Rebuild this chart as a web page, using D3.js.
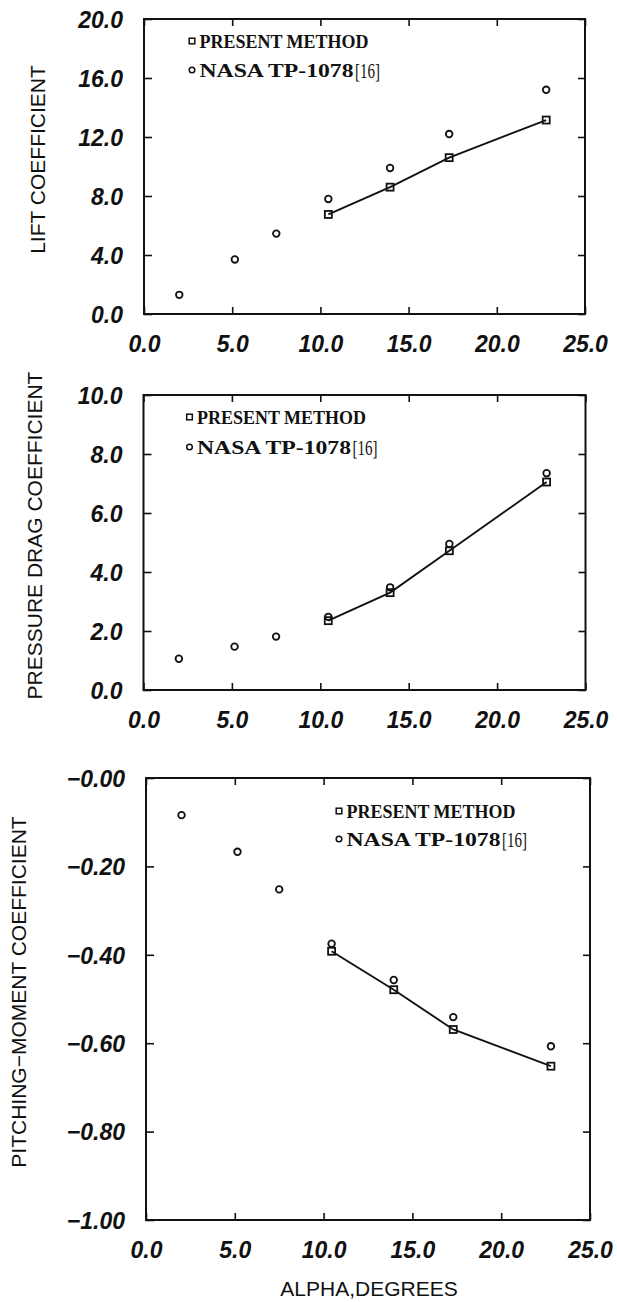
<!DOCTYPE html>
<html>
<head>
<meta charset="utf-8">
<script src="https://cdn.jsdelivr.net/npm/d3@7"></script>
<style>
  body { margin: 0; background: #fff; }
  svg { display: block; }
  .tick text { font-family: "Liberation Sans", Arial, sans-serif; font-style: italic; font-weight: bold; font-size: 23px; fill: #111; }
  .axis-title { font-family: "Liberation Sans", Arial, sans-serif; font-size: 21px; fill: #111; }
  .legend { font-family: "Liberation Serif", "Times New Roman", serif; font-weight: bold; font-size: 19px; fill: #111; }
  .legend-ref { font-family: "Liberation Serif", "Times New Roman", serif; font-size: 21px; fill: #111; }
</style>
</head>
<body>
<svg id="chart" width="617" height="1302"></svg>
<script>
// angles of attack (deg)
const alphaNasa    = [2.0, 5.15, 7.5, 10.45, 13.95, 17.3, 22.8];
const alphaPresent = [10.45, 13.95, 17.3, 22.8];

// lift coefficient
const liftNasa    = [1.3, 3.7, 5.45, 7.8, 9.9, 12.2, 15.2];
const liftPresent = [6.75, 8.6, 10.6, 13.15];

// pressure drag coefficient
const dragNasa    = [1.06, 1.47, 1.81, 2.48, 3.48, 4.95, 7.35];
const dragPresent = [2.35, 3.3, 4.72, 7.05];

// pitching-moment coefficient
const momentNasa    = [-0.084, -0.167, -0.252, -0.375, -0.457, -0.541, -0.607];
const momentPresent = [-0.392, -0.479, -0.569, -0.652];

// ticks
const xTicks = [0, 5, 10, 15, 20, 25];
const xTickLabels = ['0.0', '5.0', '10.0', '15.0', '20.0', '25.0'];
const liftTicks = [0, 4, 8, 12, 16, 20];
const liftTickLabels = ['0.0', '4.0', '8.0', '12.0', '16.0', '20.0'];
const dragTicks = [0, 2, 4, 6, 8, 10];
const dragTickLabels = ['0.0', '2.0', '4.0', '6.0', '8.0', '10.0'];
const momentTicks = [0, -0.2, -0.4, -0.6, -0.8, -1.0];
const momentTickLabels = ['\u22120.00', '\u22120.20', '\u22120.40', '\u22120.60', '\u22120.80', '\u22121.00'];

const legendNames = ['PRESENT METHOD', 'NASA TP-1078', '[16]'];

const svg = d3.select('#chart');
svg.append('rect').attr('width', 617).attr('height', 1302).attr('fill', '#fff');

const panels = [
  { box: [144, 585, 19, 314], yDomain: [0, 20], yTicks: liftTicks, yLabels: liftTickLabels,
    title: 'LIFT COEFFICIENT', titleX: 38, nasa: liftNasa, present: liftPresent, legend: [192, 41, 70] },
  { box: [143.5, 585.5, 395, 690], yDomain: [0, 10], yTicks: dragTicks, yLabels: dragTickLabels,
    title: 'PRESSURE DRAG COEFFICIENT', titleX: 35, nasa: dragNasa, present: dragPresent, legend: [189.5, 417, 447] },
  { box: [146, 590, 778, 1220], yDomain: [-1, 0], yTicks: momentTicks, yLabels: momentTickLabels,
    title: 'PITCHING\u2212MOMENT COEFFICIENT', titleX: 19, nasa: momentNasa, present: momentPresent, legend: [339, 811, 839] }
];

panels.forEach(drawPanel);

// x-axis title under the last panel
svg.append('text')
  .attr('class', 'axis-title')
  .attr('x', 369)
  .attr('y', 1296)
  .attr('text-anchor', 'middle')
  .text('ALPHA,DEGREES');

function drawPanel(p) {
  const [x0, x1, y0, y1] = p.box;
  const x = d3.scaleLinear().domain([0, 25]).range([x0, x1]);
  const y = d3.scaleLinear().domain(p.yDomain).range([y1, y0]);
  const g = svg.append('g');

  // inward ticks on all four sides
  const bottom = g.append('g').attr('transform', `translate(0,${y1})`)
    .call(d3.axisBottom(x).tickValues(xTicks).tickSize(-7).tickPadding(22)
      .tickFormat((d, i) => xTickLabels[i]));
  const top = g.append('g').attr('transform', `translate(0,${y0})`)
    .call(d3.axisTop(x).tickValues(xTicks).tickSize(-7).tickFormat(''));
  const left = g.append('g').attr('transform', `translate(${x0},0)`)
    .call(d3.axisLeft(y).tickValues(p.yTicks).tickSize(-8).tickPadding(21)
      .tickFormat((d, i) => p.yLabels[i]));
  const right = g.append('g').attr('transform', `translate(${x1},0)`)
    .call(d3.axisRight(y).tickValues(p.yTicks).tickSize(-7).tickFormat(''));

  [bottom, top, left, right].forEach(a => {
    a.select('.domain').remove();
    a.selectAll('.tick line').attr('stroke', '#111').attr('stroke-width', 1.6);
  });
  bottom.selectAll('.tick text').attr('dy', '0.71em');
  left.selectAll('.tick text').attr('dy', '0.36em');

  // frame
  g.append('rect')
    .attr('x', x0).attr('y', y0)
    .attr('width', x1 - x0).attr('height', y1 - y0)
    .attr('fill', 'none').attr('stroke', '#111').attr('stroke-width', 2);

  // y title
  const cy = (y0 + y1) / 2 - 7;
  g.append('text')
    .attr('class', 'axis-title')
    .attr('transform', `translate(${p.titleX},${cy}) rotate(-90)`)
    .attr('text-anchor', 'middle')
    .attr('dy', '0.35em')
    .text(p.title);

  // present method line
  const pts = alphaPresent.map((a, i) => [a, p.present[i]]);
  g.append('path')
    .datum(pts)
    .attr('fill', 'none')
    .attr('stroke', '#111')
    .attr('stroke-width', 1.9)
    .attr('d', d3.line().x(d => x(d[0])).y(d => y(d[1])));

  // NASA circles
  g.append('g').selectAll('circle')
    .data(alphaNasa.map((a, i) => [a, p.nasa[i]]))
    .join('circle')
    .attr('cx', d => x(d[0]))
    .attr('cy', d => y(d[1]))
    .attr('r', 3.3)
    .attr('fill', 'none')
    .attr('stroke', '#111')
    .attr('stroke-width', 1.8);

  // present squares
  g.append('g').selectAll('rect')
    .data(pts)
    .join('rect')
    .attr('x', d => x(d[0]) - 3.5)
    .attr('y', d => y(d[1]) - 3.5)
    .attr('width', 7)
    .attr('height', 7)
    .attr('fill', 'none')
    .attr('stroke', '#111')
    .attr('stroke-width', 1.8);

  // legend
  const [lx, ly1, ly2] = p.legend;
  const lg = g.append('g');
  lg.append('rect')
    .attr('x', lx - 2.8).attr('y', ly1 - 2.8)
    .attr('width', 5.6).attr('height', 5.6)
    .attr('fill', 'none').attr('stroke', '#111').attr('stroke-width', 1.5);
  lg.append('circle')
    .attr('cx', lx).attr('cy', ly2).attr('r', 2.8)
    .attr('fill', 'none').attr('stroke', '#111').attr('stroke-width', 1.5);
  lg.append('text')
    .attr('class', 'legend')
    .attr('x', lx + 7.5).attr('y', ly1 + 7)
    .attr('textLength', 169).attr('lengthAdjust', 'spacingAndGlyphs')
    .text(legendNames[0]);
  lg.append('text')
    .attr('class', 'legend')
    .attr('x', lx + 7.5).attr('y', ly2 + 6.7)
    .attr('textLength', 154).attr('lengthAdjust', 'spacingAndGlyphs')
    .text(legendNames[1]);
  lg.append('text')
    .attr('class', 'legend-ref')
    .attr('x', lx + 163).attr('y', ly2 + 7.5)
    .attr('textLength', 25).attr('lengthAdjust', 'spacingAndGlyphs')
    .text(legendNames[2]);
}
</script>
</body>
</html>
